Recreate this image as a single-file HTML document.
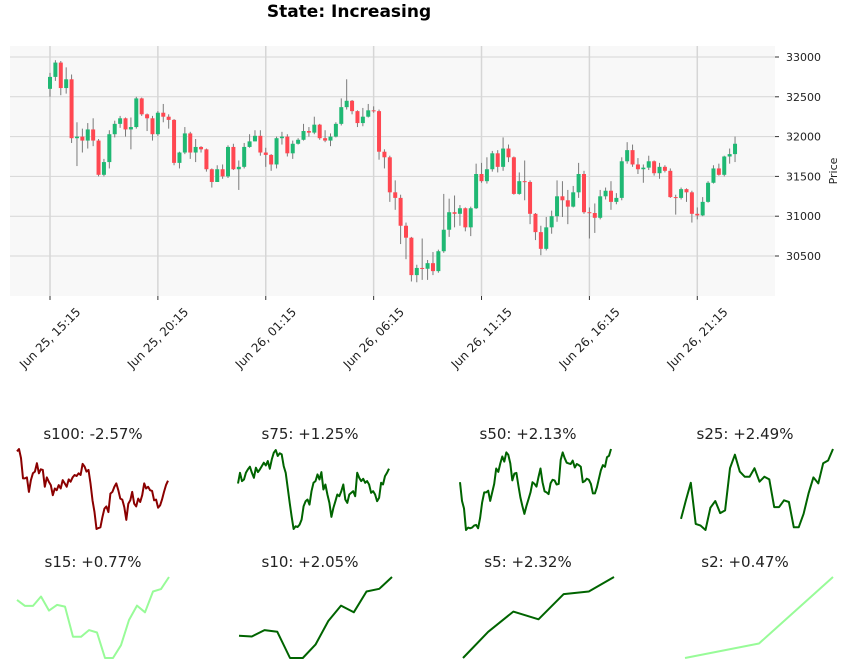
<!DOCTYPE html>
<html><head><meta charset="utf-8"><style>
html,body{margin:0;padding:0;background:#fff;}
svg{display:block;font-family:"DejaVu Sans","Liberation Sans",sans-serif;}
</style></head><body>
<svg id="chart" width="845" height="670" viewBox="0 0 845 670" xmlns="http://www.w3.org/2000/svg">
<text x="349" y="17" text-anchor="middle" font-size="17" font-weight="bold" fill="#000">State: Increasing</text>
<rect x="10" y="46" width="765" height="250" fill="#f8f8f8"/>
<g id="grid"></g><g id="candles"></g><g id="axes"></g><g id="sparks"></g>
<text transform="translate(837,171) rotate(-90)" text-anchor="middle" font-size="11" fill="#222">Price</text>
</svg>
<script>
const firstOpen = 32600;
const closes = [32750,32930,32610,32720,31980,32000,31950,32090,31950,31520,31680,32030,32160,32230,32090,32120,32480,32280,32230,32030,32300,32250,32210,31670,31800,32040,31800,31870,31840,31590,31430,31590,31500,31870,31590,31620,31870,31940,32010,31800,31770,31650,31980,32000,31790,31910,31960,32070,32050,32150,31980,31950,32000,32160,32370,32450,32320,32170,32250,32330,32320,31810,31740,31300,31230,30880,30730,30260,30350,30340,30410,30310,30560,30830,31050,31030,31100,30860,31100,31530,31440,31590,31790,31620,31850,31740,31280,31440,31430,31030,30800,30590,30860,31000,31250,31200,31120,31300,31530,31050,31040,30980,31250,31320,31180,31230,31690,31830,31650,31590,31610,31690,31540,31620,31570,31240,31230,31340,31300,31030,31010,31180,31420,31600,31520,31750,31780,31910];
const highs = [32800,32960,32950,32870,32780,32180,32100,32170,32230,31970,31720,32080,32200,32260,32240,32240,32500,32490,32290,32260,32320,32410,32280,32220,31810,32120,32060,31970,31880,31850,31600,31640,31650,31890,31910,31700,31920,32030,32080,32080,31860,31780,32000,32060,32030,31950,31980,32160,32120,32250,32160,32080,32040,32180,32480,32720,32460,32330,32360,32410,32380,32340,31840,31760,31450,31270,30920,30740,30390,30720,30450,30550,30580,31280,31220,31260,31140,31110,31120,31660,31670,31740,31820,31830,31990,31900,31750,31550,31700,31450,31040,30880,30990,31070,31450,31440,31330,31380,31670,31570,31110,31160,31330,31360,31440,31290,31740,31930,31900,31730,31650,31760,31700,31670,31640,31600,31270,31360,31350,31320,31110,31240,31440,31640,31660,31760,31850,32000];
const lows = [32500,32700,32520,32540,31920,31630,31800,31850,31880,31500,31500,31600,31990,32110,32000,31840,32100,32260,32070,31950,32010,32180,32100,31640,31600,31780,31720,31680,31800,31560,31360,31430,31470,31480,31580,31330,31600,31860,31940,31760,31620,31570,31600,31900,31750,31720,31900,31950,32000,32030,31960,31930,31880,31990,32140,32340,32280,32120,32130,32240,32300,31710,31600,31180,31080,30650,30460,30180,30170,30200,30200,30260,30290,30540,30740,30860,30880,30810,30750,31090,31420,31410,31560,31550,31570,31680,31270,31270,31200,30900,30700,30510,30570,30780,30930,30990,30900,31110,31230,31030,30720,30790,30960,31210,31080,31150,31200,31660,31620,31530,31420,31580,31510,31470,31550,31230,31020,31210,31180,30920,30960,31000,31170,31410,31510,31500,31660,31680];
const yTicks = [30500,31000,31500,32000,32500,33000];
const xTickIdx = [0,20,40,60,80,100,120];
const xTickLabels = ["Jun 25, 15:15","Jun 25, 20:15","Jun 26, 01:15","Jun 26, 06:15","Jun 26, 11:15","Jun 26, 16:15","Jun 26, 21:15"];
const s100 = [233,240,213,153,153,156,113,148,168,173,198,168,180,178,128,156,143,133,103,123,118,133,123,148,138,128,150,143,156,163,160,168,163,196,188,173,178,138,88,53,3,6,8,38,63,70,53,108,113,128,138,118,93,90,68,30,78,88,113,78,70,93,83,103,138,123,128,118,116,88,90,66,73,90,113,133,146];
const s75 = [136,168,143,148,168,178,186,168,153,183,170,178,188,198,190,203,180,208,228,236,218,226,223,188,168,123,78,38,0,8,6,13,28,68,83,88,73,113,138,143,163,148,170,118,133,103,78,36,63,83,103,98,113,133,88,78,103,108,113,98,168,153,143,150,138,143,133,108,113,103,83,93,138,133,158,168,180];
const s50 = [145,90,68,5,12,10,12,18,20,10,40,85,115,115,120,90,115,140,185,175,200,220,205,232,225,200,150,170,172,135,100,75,52,75,95,115,145,140,132,160,185,145,118,115,110,142,152,150,138,140,210,232,215,202,200,198,208,188,198,195,190,145,148,155,152,140,112,112,130,155,180,195,190,218,222,242];
const s25 = [35,90,142,20,15,2,68,88,52,60,185,225,175,160,160,185,145,160,152,70,70,90,85,10,10,50,110,158,140,200,208,242];
const s15 = [173,155,155,183,141,158,153,63,63,83,76,0,0,38,113,156,136,198,205,241];
const s10 = [66,64,83,78,0,0,40,110,156,136,198,206,241];
const s5 = [0,78,138,115,190,198,241];
const s2 = [0,43,241];
const sparkTitles = ["s100: -2.57%","s75: +1.25%","s50: +2.13%","s25: +2.49%","s15: +0.77%","s10: +2.05%","s5: +2.32%","s2: +0.47%"];

const NS = "http://www.w3.org/2000/svg";
function mk(tag, attrs, parent){const e=document.createElementNS(NS,tag);for(const k in attrs)e.setAttribute(k,attrs[k]);parent.appendChild(e);return e;}
const yScale = p => 57 + (33000 - p) * 0.0796;
const xScale = i => 50 + i * 5.394;

const grid = document.getElementById('grid');
const axes = document.getElementById('axes');
yTicks.forEach(v => {
  const y = yScale(v);
  const g = mk('line',{x1:10,x2:775,y1:y,y2:y,stroke:'#d6d6d6','stroke-width':1},grid);
  
  
  const t = mk('line',{x1:775,x2:779,y1:y,y2:y,stroke:'#333','stroke-width':1},axes);
  
  
  const l = mk('text',{x:786,y:y+4,'font-size':11,fill:'#222'},axes);
  l.textContent = v;
  
  
});
xTickIdx.forEach((idx,k) => {
  const x = xScale(idx);
  const g = mk('line',{x1:x,x2:x,y1:46,y2:296,stroke:'#d6d6d6','stroke-width':1.5},grid);
  
  
  const t = mk('line',{x1:x,x2:x,y1:296,y2:300,stroke:'#333','stroke-width':1},axes);
  
  
  const l = mk('text',{transform:`translate(${x},${338}) rotate(-45)`,'text-anchor':'middle','font-size':12,fill:'#222',dy:'0.35em'},axes);
  l.textContent = xTickLabels[k];
  
  
});

const cg = document.getElementById('candles');
closes.forEach((c,i) => {
  const o = i === 0 ? firstOpen : closes[i-1];
  const x = xScale(i);
  const up = c >= o;
  const col = up ? '#1fb873' : '#ff4751';
  const w = mk('line',{x1:x,x2:x,y1:yScale(highs[i]),y2:yScale(lows[i]),stroke:'#7a7a7a','stroke-width':1},cg);
  
  
  const top = yScale(Math.max(o,c)), bot = yScale(Math.min(o,c));
  const b = mk('rect',{x:x-2,y:top,width:4,height:Math.max(1,bot-top),fill:col},cg);
  
  
});

const sg = document.getElementById('sparks');
const panels = [
  {d:s100,x0:17,x1:168,y0:449,y1:529,col:'#8b0000',tx:93,ty:439},
  {d:s75,x0:238,x1:389,y0:450,y1:529,col:'#006400',tx:310,ty:439},
  {d:s50,x0:460,x1:611,y0:449,y1:530,col:'#006400',tx:528,ty:439},
  {d:s25,x0:681,x1:833,y0:449,y1:530,col:'#006400',tx:745,ty:439},
  {d:s15,x0:17,x1:169,y0:577,y1:658,col:'#98fb98',tx:93,ty:567},
  {d:s10,x0:239,x1:392,y0:577,y1:658,col:'#006400',tx:310,ty:567},
  {d:s5,x0:463,x1:614,y0:577,y1:658,col:'#006400',tx:528,ty:567},
  {d:s2,x0:685,x1:833,y0:577,y1:658,col:'#98fb98',tx:745,ty:567}
];
panels.forEach((p,k) => {
  const mn = Math.min(...p.d), mx = Math.max(...p.d);
  const pts = p.d.map((v,i) => {
    const x = p.x0 + (p.x1-p.x0) * i / (p.d.length-1);
    const y = p.y1 - (p.y1-p.y0) * (v-mn) / (mx-mn);
    return x.toFixed(1)+','+y.toFixed(1);
  }).join(' ');
  const pl = mk('polyline',{points:pts,fill:'none',stroke:p.col,'stroke-width':2,'stroke-linejoin':'round'},sg);
  
  
  const t = mk('text',{x:p.tx,y:p.ty,'text-anchor':'middle','font-size':15,fill:'#222'},sg);
  t.textContent = sparkTitles[k];
  
  
});
</script>
</body></html>
